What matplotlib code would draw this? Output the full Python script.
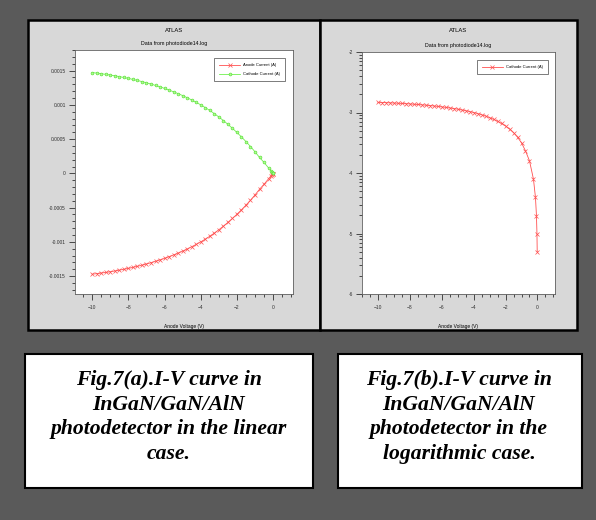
import numpy as np
import matplotlib
matplotlib.use("Agg")
import matplotlib.pyplot as plt
from matplotlib.patches import Rectangle
from matplotlib.ticker import MultipleLocator, FuncFormatter, LogLocator

# ---------------- data ----------------
anode_voltage = [-10.0, -9.75, -9.5, -9.25, -9.0, -8.75, -8.5, -8.25, -8.0,
                 -7.75, -7.5, -7.25, -7.0, -6.75, -6.5, -6.25, -6.0, -5.75,
                 -5.5, -5.25, -5.0, -4.75, -4.5, -4.25, -4.0, -3.75, -3.5,
                 -3.25, -3.0, -2.75, -2.5, -2.25, -2.0, -1.75, -1.5, -1.25,
                 -1.0, -0.75, -0.5, -0.25, -0.125, -0.0625, -0.03125, -0.015625]
cathode_current = [1.471e-3, 1.463e-3, 1.454e-3, 1.445e-3, 1.435e-3, 1.424e-3,
                   1.412e-3, 1.399e-3, 1.386e-3, 1.371e-3, 1.356e-3, 1.339e-3,
                   1.322e-3, 1.303e-3, 1.283e-3, 1.262e-3, 1.240e-3, 1.215e-3,
                   1.190e-3, 1.163e-3, 1.135e-3, 1.104e-3, 1.071e-3, 1.036e-3,
                   1.000e-3, 0.960e-3, 0.918e-3, 0.872e-3, 0.823e-3, 0.771e-3,
                   0.716e-3, 0.658e-3, 0.597e-3, 0.532e-3, 0.464e-3, 0.392e-3,
                   0.315e-3, 0.232e-3, 0.159e-3, 7.9e-5, 3.95e-5, 1.98e-5,
                   1.0e-5, 5.0e-6]
anode_current = [-c for c in cathode_current]

title_main = "ATLAS"
title_sub = "Data from photodiode14.log"
xlabel_left = "Anode Voltage (V)"
xlabel_right = "Anode Voltage (V)"
caption_a = "Fig.7(a).I-V curve in\nInGaN/GaN/AlN\nphotodetector in the linear\ncase."
caption_b = "Fig.7(b).I-V curve in\nInGaN/GaN/AlN\nphotodetector in the\nlogarithmic case."

# ---------------- layout helpers ----------------
W, H = 596, 520
fig = plt.figure(figsize=(W / 100, H / 100), dpi=100, facecolor="#5a5a5a")


def box(x0, y0, x1, y1):
    return [x0 / W, 1 - y1 / H, (x1 - x0) / W, (y1 - y0) / H]


def rect(x0, y0, x1, y1, fc, ec, lw):
    b = box(x0, y0, x1, y1)
    fig.add_artist(Rectangle((b[0], b[1]), b[2], b[3], transform=fig.transFigure,
                             facecolor=fc, edgecolor=ec, linewidth=lw, zorder=0))


# panels
rect(28, 20, 320, 330, "#d8d8d8", "black", 1.8)
rect(320, 20, 577, 330, "#d8d8d8", "black", 1.8)
# caption boxes
rect(25, 354, 313, 488, "white", "black", 1.5)
rect(338, 354, 582, 488, "white", "black", 1.5)

SANS = "Liberation Sans"
SERIF = "Liberation Serif"

fig.text(169 / W, 1 - 417 / H, caption_a, ha="center", va="center",
         family=SERIF, weight="bold", style="italic", fontsize=15.6,
         linespacing=1.3)
fig.text(459 / W, 1 - 417 / H, caption_b, ha="center", va="center",
         family=SERIF, weight="bold", style="italic", fontsize=15.6,
         linespacing=1.3)


def style_axes(ax):
    ax.set_facecolor("white")
    for s in ax.spines.values():
        s.set_color("#606060")
        s.set_linewidth(0.6)
    ax.tick_params(which="both", direction="out", colors="#303030",
                   labelsize=3.5, width=0.6, pad=2.5)
    ax.tick_params(which="major", length=4)
    ax.tick_params(which="minor", length=2.5)
    for lbl in ax.get_xticklabels() + ax.get_yticklabels():
        lbl.set_family(SANS)


# ---------------- left: linear ----------------
ax1 = fig.add_axes(box(75, 50, 293, 294))
ax1.plot(anode_voltage, anode_current, color="#ff5050", lw=0.6, marker="x",
         ms=2.2, mew=0.5, label="Anode Current (A)")
ax1.plot(anode_voltage, cathode_current, color="#70f050", lw=0.6, marker="o",
         ms=2.0, mew=0.5, mfc="#b0ff90", mec="#60e040", label="Cathode Current (A)")
ax1.set_xlim(-10.95, 1.1)
ax1.set_ylim(-0.00176, 0.0018)
ax1.xaxis.set_major_locator(MultipleLocator(2))
ax1.xaxis.set_minor_locator(MultipleLocator(0.5))
ax1.yaxis.set_major_locator(MultipleLocator(0.0005))
ax1.yaxis.set_minor_locator(MultipleLocator(0.0001))
ax1.yaxis.set_major_formatter(FuncFormatter(lambda v, p: "0" if abs(v) < 1e-12 else f"{v:g}"))
style_axes(ax1)
ax1.tick_params(axis="x", pad=4)
ax1.set_xlabel(xlabel_left, fontsize=3.5, family=SANS, labelpad=10)
fig.text(174 / W, 1 - 30 / H, title_main, ha="center", va="center", fontsize=4.2, family=SANS)
fig.text(174 / W, 1 - 43 / H, title_sub, ha="center", va="center", fontsize=3.8, family=SANS)
leg1 = ax1.legend(loc="upper right", bbox_to_anchor=(0.975, 0.975), fontsize=3,
                  frameon=True, fancybox=False, edgecolor="#404040",
                  borderpad=1.2, labelspacing=1.2, handlelength=5, prop={"family": SANS, "size": 3})
leg1.get_frame().set_linewidth(0.6)

# ---------------- right: logarithmic ----------------
ax2 = fig.add_axes(box(362, 52, 555, 294))
ax2.plot(anode_voltage, cathode_current, color="#ff5050", lw=0.6, marker="x",
         ms=2.2, mew=0.5, label="Cathode Current (A)")
ax2.set_yscale("log")
ax2.set_xlim(-11.0, 1.1)
ax2.set_ylim(1e-6, 1e-2)
ax2.xaxis.set_major_locator(MultipleLocator(2))
ax2.xaxis.set_minor_locator(MultipleLocator(0.5))
ax2.yaxis.set_major_locator(LogLocator(base=10, numticks=10))
ax2.yaxis.set_minor_locator(LogLocator(base=10, subs=np.arange(2, 10), numticks=10))
ax2.yaxis.set_major_formatter(FuncFormatter(lambda v, p: f"{int(round(np.log10(v)))}"))
ax2.yaxis.set_minor_formatter(FuncFormatter(lambda v, p: ""))
style_axes(ax2)
ax2.tick_params(axis="x", pad=4)
ax2.set_xlabel(xlabel_right, fontsize=3.5, family=SANS, labelpad=10)
fig.text(458 / W, 1 - 31 / H, title_main, ha="center", va="center", fontsize=4.2, family=SANS)
fig.text(458 / W, 1 - 45 / H, title_sub, ha="center", va="center", fontsize=3.8, family=SANS)
leg2 = ax2.legend(loc="upper right", bbox_to_anchor=(0.975, 0.975), fontsize=3,
                  frameon=True, fancybox=False, edgecolor="#404040",
                  borderpad=1.2, handlelength=5, prop={"family": SANS, "size": 3})
leg2.get_frame().set_linewidth(0.6)

fig.savefig("out.png", dpi=100, facecolor=fig.get_facecolor())
